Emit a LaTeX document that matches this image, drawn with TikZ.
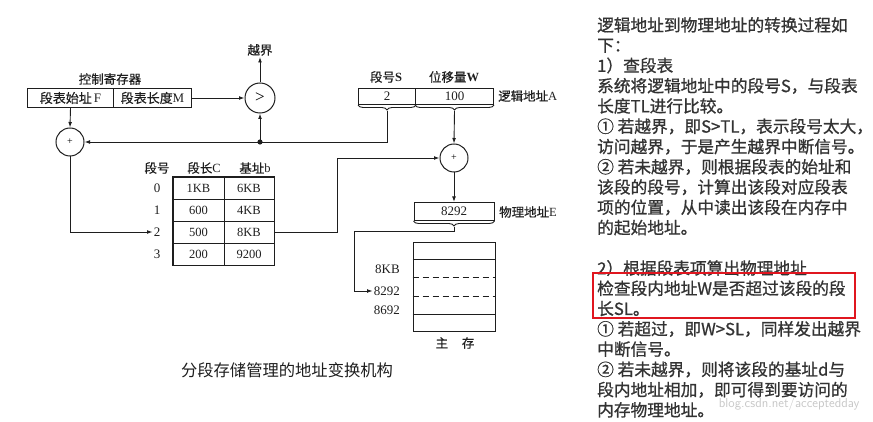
\documentclass[tikz,border=0pt]{standalone}
\usepackage{fontspec}
\setmainfont{Liberation Serif}
\newfontfamily\cjk{Noto Sans CJK SC}
\newfontfamily\cjkb[FakeBold=0.9]{Noto Sans CJK SC}
\newfontfamily\cjkm[FakeBold=0.5]{Noto Sans CJK SC}
\usetikzlibrary{decorations.pathreplacing,arrows.meta,calc}
\definecolor{txt}{HTML}{333333}
\definecolor{ink}{HTML}{1E1E1E}
\definecolor{redbox}{HTML}{E0161F}
\begin{document}
\begin{tikzpicture}[x=1pt,y=-1pt,
  ln/.style={line width=0.9pt, draw=ink},
  arr/.style={ln, -{Latex[length=5.5pt,width=3.8pt]}},
  op/.style={circle, draw=ink, line width=1pt, minimum size=28pt, inner sep=0pt},
  lbl/.style={text=ink, inner sep=1pt, font=\cjkm\fontsize{12.5}{14}\selectfont},
  num/.style={text=ink, inner sep=1pt, font=\fontsize{13}{14}\selectfont},
  fld/.style={draw=ink, line width=1pt, inner sep=0pt, text=ink, font=\fontsize{13}{14}\selectfont},
  cell/.style={draw=ink, line width=0.6pt, minimum height=22pt, inner sep=0pt, text=ink, font=\fontsize{12.5}{14}\selectfont},
  brc/.style={ln, decorate, decoration={brace, mirror, amplitude=5pt}}
]
\useasboundingbox (0,0) rectangle (873,422);

% control register
\node[lbl] (ctl) at (110,79) {控制寄存器};
\node[fld, minimum width=86pt, minimum height=19pt, anchor=north west] (regF) at (27,88) {{\cjkm 段表始址}\,F};
\node[fld, minimum width=78pt, minimum height=19pt, anchor=north west] (regM) at (113,88) {{\cjkm 段表长度}M};

% comparator
\node[op, minimum size=30pt, font=\fontsize{17}{17}\selectfont] (cmp) at (260,98) {>};
\node[lbl] (yj) at (260,50) {越界};
\draw[arr] (regM.east) -- (cmp.west);
\draw[arr] (cmp.north) -- (yj.south);
\coordinate (jn) at (260,142);
\fill[ink] (jn) circle (2.6pt);
\draw[arr] (jn) -- (cmp.south);

% adder 1
\node[op, font=\fontsize{10}{10}\selectfont] (p1) at (70,142) {+};
\draw[arr] (regF.south) -- (p1.north);

% logical address
\node[lbl] (hS) at (386,77) {段号{\rmfamily\bfseries S}};
\node[lbl] (hW) at (454,77) {位移量{\rmfamily\bfseries W}};
\node[fld, minimum width=57pt, minimum height=16pt, anchor=north west] (fS) at (358,88) {2};
\node[fld, minimum width=78pt, minimum height=16pt, anchor=north west] (fW) at (415,88) {100};
\node[lbl, anchor=west] (la) at (497,96) {逻辑地址{\rmfamily A}};
\draw[brc] (fS.south west) -- (fS.south east);
\draw[brc] (fW.south west) -- (fW.south east);
\coordinate (sTip) at ($(fS.south)+(0,6)$);
\coordinate (wTip) at ($(fW.south)+(0,6)$);
\draw[arr] (sTip) |- (p1.east);

% adder 2
\node[op, font=\fontsize{10}{10}\selectfont] (p2) at (454,158) {+};
\draw[arr] (wTip) -- (p2.north);

% segment table
\node[lbl] (hN) at (157,168) {段号};
\node[lbl] (hC) at (204,168) {段长{\rmfamily C}};
\node[lbl] (hB) at (255,168) {基址{\rmfamily b}};
\node[num] (r0) at (157,188) {0};
\node[num] (r1) at (157,210) {1};
\node[num] (r2) at (157,232) {2};
\node[num] (r3) at (157,254) {3};
\node[cell, minimum width=51pt] (c0) at (198.5,188) {1KB};
\node[cell, minimum width=50pt] (b0) at (249,188) {6KB};
\node[cell, minimum width=51pt] (c1) at (198.5,210) {600};
\node[cell, minimum width=50pt] (b1) at (249,210) {4KB};
\node[cell, minimum width=51pt] (c2) at (198.5,232) {500};
\node[cell, minimum width=50pt] (b2) at (249,232) {8KB};
\node[cell, minimum width=51pt] (c3) at (198.5,254) {200};
\node[cell, minimum width=50pt] (b3) at (249,254) {9200};
\draw[draw=ink, line width=1.3pt] (c0.north west) rectangle (b3.south east);
\draw[arr] (p1.south) |- (r2.west);
\coordinate (t1) at (337,158);
\draw[arr] (b2.east) -| (t1) -- (p2.west);

% physical address
\node[fld, minimum width=80pt, minimum height=18pt, anchor=north] (pa) at (454,202) {8292};
\node[lbl, anchor=west] (pe) at (498,212) {物理地址{\rmfamily E}};
\draw[arr] (p2.south) -- (pa.north);
\draw[brc] (pa.south west) -- (pa.south east);
\coordinate (pTip) at ($(pa.south)+(0,6)$);

% main memory
\node[draw=ink, line width=1pt, minimum width=82pt, minimum height=89pt, inner sep=0pt, anchor=north] (mem) at (454,242) {};
\draw[ln, line width=0.8pt] (mem.west |- 0,259) -- (mem.east |- 0,259);
\draw[ln, line width=0.8pt, dash pattern=on 6pt off 4pt] (mem.west |- 0,277) -- (mem.east |- 0,277);
\draw[ln, line width=0.8pt, dash pattern=on 6pt off 4pt] (mem.west |- 0,296) -- (mem.east |- 0,296);
\draw[ln, line width=0.8pt] (mem.west |- 0,314) -- (mem.east |- 0,314);
\node[num, anchor=east] (m1) at (401,269) {8KB};
\node[num, anchor=east] (m2) at (401,291) {8292};
\node[num, anchor=east] (m3) at (401,310) {8692};
\node[lbl] (zc) at (455,343) {主\hspace{1.1em}存};
\coordinate (t2) at (354,231);
\draw[arr] (pTip) |- (t2) |- (m2.west);

% caption
\node[text=ink, font=\cjk\fontsize{16.3}{18}\selectfont] (cap) at (287,370) {分段存储管理的地址变换机构};

% right explanation
\node[anchor=north west, inner sep=0pt, align=left, text=txt, font=\cjkb\fontsize{16.7}{20.26}\selectfont] (rt) at (597,17) {逻辑地址到物理地址的转换过程如\\下：\\1）查段表\\系统将逻辑地址中的段号S，与段表\\长度TL进行比较。\\① 若越界，即S>TL，表示段号太大，\\访问越界，于是产生越界中断信号。\\② 若未越界，则根据段表的始址和\\该段的段号，计算出该段对应段表\\项的位置，从中读出该段在内存中\\的起始地址。\\[20.26pt]2）根据段表项算出物理地址\\检查段内地址W是否超过该段的段\\长SL。\\① 若超过，即W>SL，同样发出越界\\中断信号。\\② 若未越界，则将该段的基址d与\\段内地址相加，即可得到要访问的\\内存物理地址。};
\draw[draw=redbox, line width=2.6pt] (593,273) rectangle (855,318);
\node[anchor=east, text=black!22, font=\fontsize{13}{14}\selectfont\sffamily] (wm) at (863,404) {blog.csdn.net/acceptedday};
\end{tikzpicture}
\end{document}
